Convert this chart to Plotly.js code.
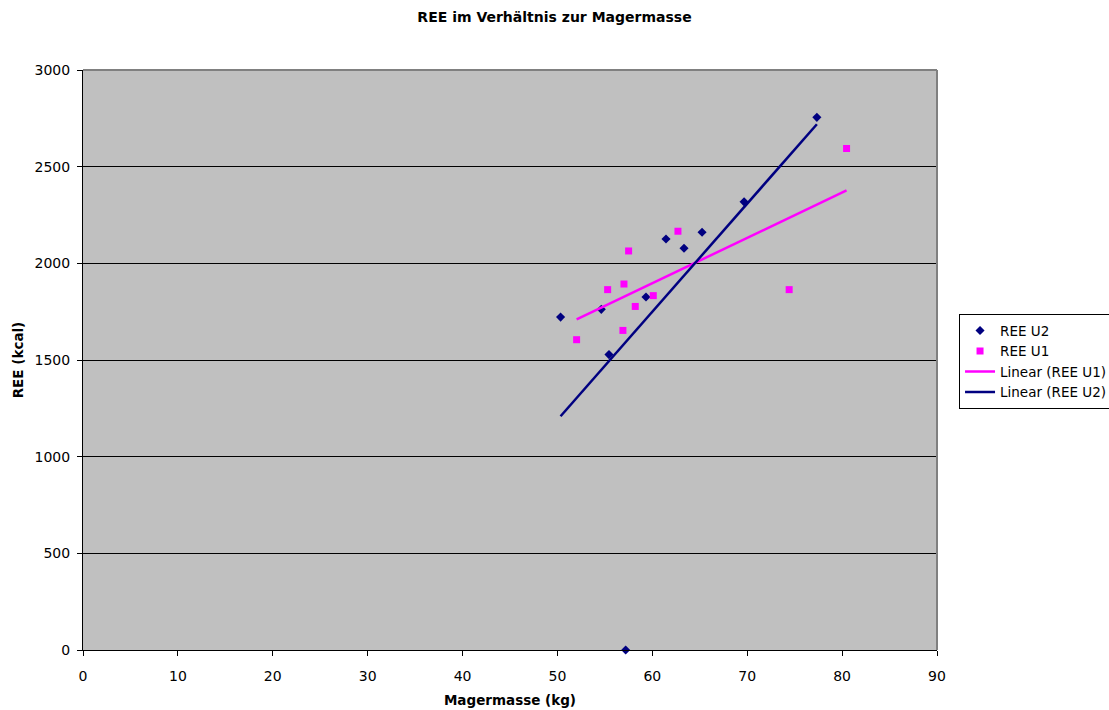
<!DOCTYPE html>
<html>
<head>
<meta charset="utf-8">
<script src="https://cdn.plot.ly/plotly-3.0.1.min.js"></script>
<style>body{margin:0;padding:0;background:#fff;} #chart{width:1109px;height:710px;}</style>
</head>
<body>
<div id="chart"></div>
<script>
// Data
const u2Mager = [50.33, 54.62, 55.43, 59.33, 61.44, 63.34, 65.24, 69.67, 77.34, 57.19];
const u2REE   = [1722, 1762, 1528, 1826, 2126, 2078, 2161, 2318, 2755, 0];
const u1Mager = [52.02, 55.29, 57.01, 57.50, 56.90, 58.20, 60.10, 62.70, 80.47, 74.42];
const u1REE   = [1605, 1864, 1893, 2064, 1653, 1777, 1833, 2166, 2594, 1864];
const xTicks = [0, 10, 20, 30, 40, 50, 60, 70, 80, 90];
const yTicks = [0, 500, 1000, 1500, 2000, 2500, 3000];

function linFit(xs, ys) {
  const n = xs.length;
  const mx = xs.reduce((a, b) => a + b, 0) / n;
  const my = ys.reduce((a, b) => a + b, 0) / n;
  let sxy = 0, sxx = 0;
  for (let i = 0; i < n; i++) { sxy += (xs[i] - mx) * (ys[i] - my); sxx += (xs[i] - mx) ** 2; }
  const b = sxy / sxx, a = my - b * mx;
  const x0 = Math.min(...xs), x1 = Math.max(...xs);
  return { x: [x0, x1], y: [a + b * x0, a + b * x1] };
}
const fit1 = linFit(u1Mager, u1REE);
const fit2 = linFit(u2Mager, u2REE);

const font = 'DejaVu Sans, Arial, sans-serif';
const traces = [
  { x: u2Mager, y: u2REE, type: 'scatter', mode: 'markers', name: 'REE U2',
    marker: { symbol: 'diamond', color: '#000080', size: 7 }, cliponaxis: false },
  { x: u1Mager, y: u1REE, type: 'scatter', mode: 'markers', name: 'REE U1',
    marker: { symbol: 'square', color: '#FF00FF', size: 7 } },
  { x: fit1.x, y: fit1.y, type: 'scatter', mode: 'lines', name: 'Linear (REE U1)',
    line: { color: '#FF00FF', width: 2.5 } },
  { x: fit2.x, y: fit2.y, type: 'scatter', mode: 'lines', name: 'Linear (REE U2)',
    line: { color: '#000080', width: 2.5 } }
];

const layout = {
  width: 1109, height: 710,
  margin: { l: 83, r: 172, t: 70, b: 60, autoexpand: false },
  paper_bgcolor: '#FFFFFF',
  plot_bgcolor: '#C0C0C0',
  font: { family: font, size: 14, color: '#000' },
  title: { text: '<b>REE im Verhältnis zur Magermasse</b>', font: { family: font, size: 14, color: '#000' },
           xref: 'container', x: 0.5, xanchor: 'center', yref: 'container', y: 0.976, yanchor: 'middle' },
  xaxis: {
    range: [0, 90], tickvals: xTicks, ticktext: xTicks.map(String),
    showgrid: false, zeroline: false, showline: true, linecolor: '#000', linewidth: 1,
    ticks: 'outside', ticklen: 5, tickcolor: '#000', ticklabelstandoff: 8,
    tickfont: { family: font, size: 14 },
    title: { text: '<b>Magermasse (kg)</b>', font: { family: font, size: 13.5 }, standoff: 12 },
    mirror: false
  },
  yaxis: {
    range: [0, 3000], tickvals: yTicks, ticktext: yTicks.map(String),
    showgrid: true, gridcolor: '#000', gridwidth: 1, zeroline: false,
    showline: true, linecolor: '#000', linewidth: 1,
    ticks: 'outside', ticklen: 5, tickcolor: '#000', ticklabelstandoff: 4,
    tickfont: { family: font, size: 14 },
    title: { text: '<b>REE (kcal)</b>', font: { family: font, size: 13.5 }, standoff: 7 }
  },
  shapes: [
    { type: 'line', xref: 'paper', yref: 'paper', x0: 0, x1: 1, y0: 1, y1: 1, line: { color: '#808080', width: 2 } },
    { type: 'line', xref: 'paper', yref: 'paper', x0: 1, x1: 1, y0: 0, y1: 1, line: { color: '#808080', width: 2 } }
  ],
  legend: {
    x: 1.0258, xanchor: 'left', y: 0.579, yanchor: 'top',
    bgcolor: '#FFFFFF', bordercolor: '#000', borderwidth: 1,
    font: { family: font, size: 13.5 }, itemwidth: 30, tracegroupgap: 0
  },
  showlegend: true
};

Plotly.newPlot('chart', traces, layout, { displayModeBar: false, staticPlot: true });
</script>
</body>
</html>
